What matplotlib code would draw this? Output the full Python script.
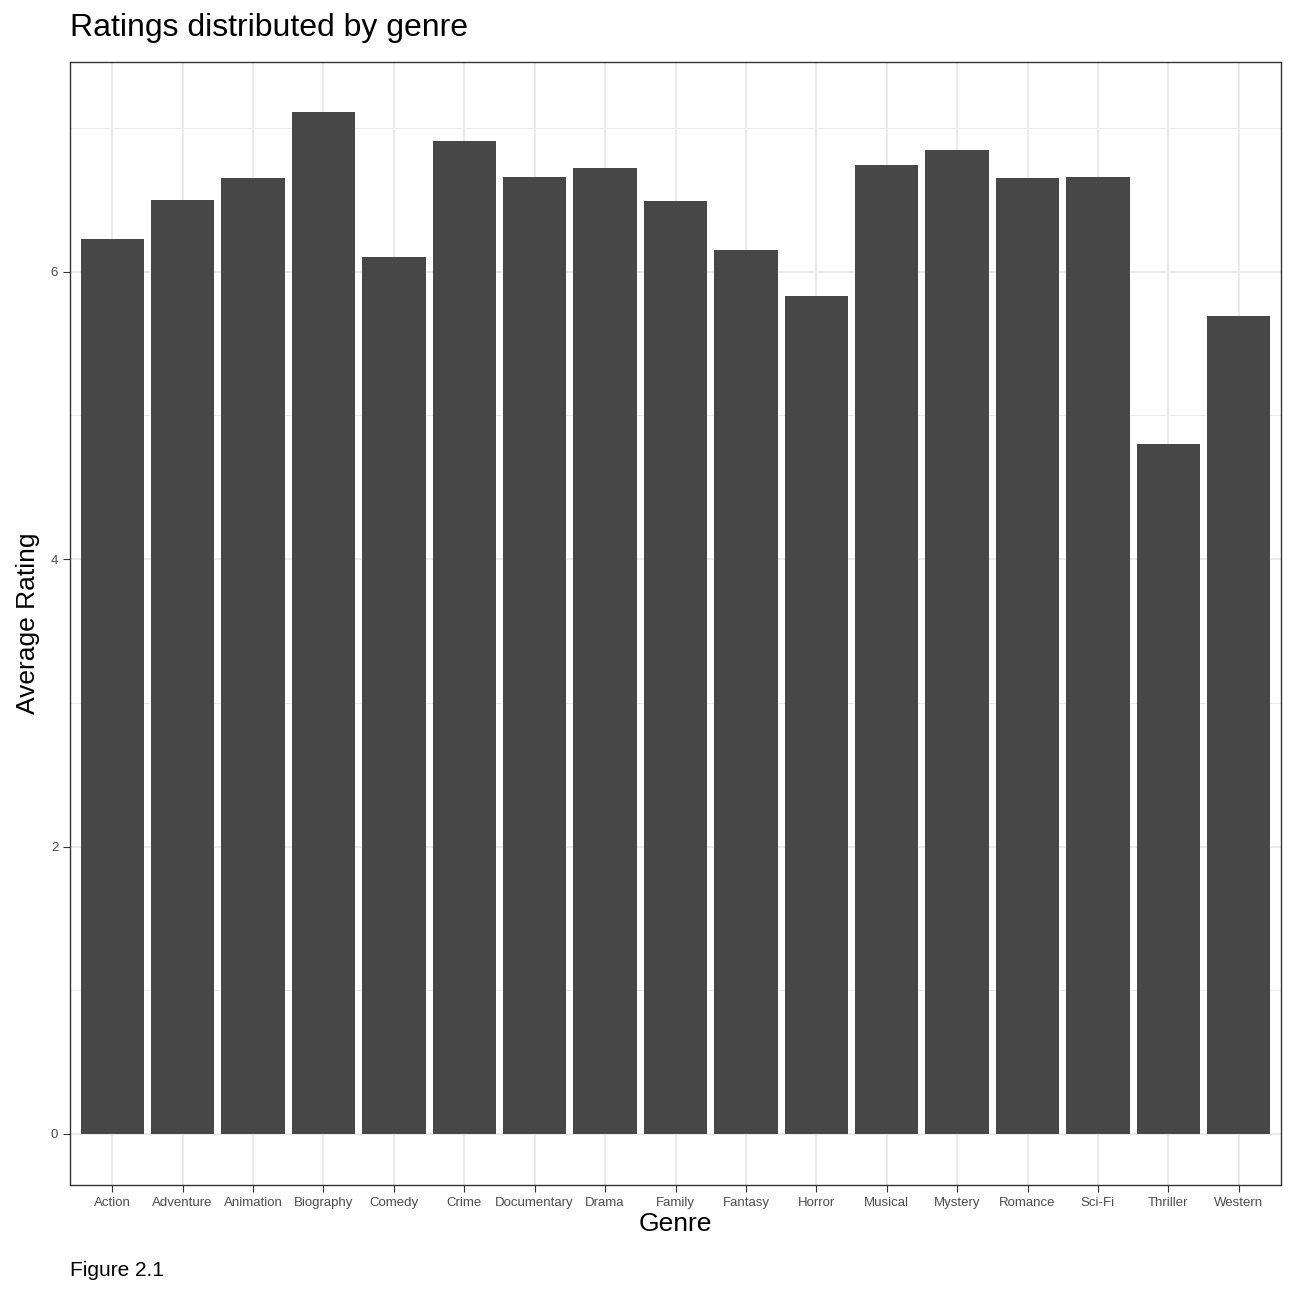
import matplotlib
matplotlib.use("Agg")
import numpy as np
import matplotlib.pyplot as plt

genres = ["Action", "Adventure", "Animation", "Biography", "Comedy", "Crime",
          "Documentary", "Drama", "Family", "Fantasy", "Horror", "Musical",
          "Mystery", "Romance", "Sci-Fi", "Thriller", "Western"]
ratings = [6.23, 6.50, 6.65, 7.11, 6.10, 6.91, 6.66, 6.72, 6.49, 6.15,
           5.83, 6.74, 6.85, 6.65, 6.66, 4.80, 5.69]

plt.rcParams["font.family"] = ["Liberation Sans", "DejaVu Sans"]

fig = plt.figure(figsize=(12.96, 12.96), dpi=100)
ax = fig.add_axes([70 / 1296, 1 - 1185 / 1296, 1211 / 1296, 1123 / 1296])

x = np.arange(len(genres))
ax.bar(x, ratings, width=0.9, color="#474747", zorder=3)

ax.set_xlim(-0.6, len(genres) - 0.4)
ax.set_ylim(-0.355, 7.46)

ax.set_yticks([0, 2, 4, 6])
ax.set_yticks([1, 3, 5, 7], minor=True)
ax.set_xticks(x)
ax.set_xticklabels(genres, fontsize=9.5, color="#4d4d4d")
ax.tick_params(axis="y", labelsize=9.5, labelcolor="#4d4d4d")
ax.tick_params(axis="both", which="major", length=5, color="#333333")
ax.tick_params(axis="y", which="minor", length=0)

ax.grid(True, which="major", color="#ebebeb", linewidth=1.4, zorder=0)
ax.grid(True, which="minor", axis="y", color="#ebebeb", linewidth=0.7, zorder=0)
for s in ax.spines.values():
    s.set_color("#333333")
    s.set_linewidth(1.0)

ax.set_xlabel("Genre", fontsize=19, labelpad=2)
ax.set_ylabel("Average Rating", fontsize=19, labelpad=8)
fig.text(70 / 1296, 1 - 28 / 1296, "Ratings distributed by genre",
         fontsize=23, va="center", ha="left")
fig.text(70 / 1296, 1 - 1271 / 1296, "Figure 2.1", fontsize=15,
         va="center", ha="left")

fig.savefig("out.png", dpi=100)
